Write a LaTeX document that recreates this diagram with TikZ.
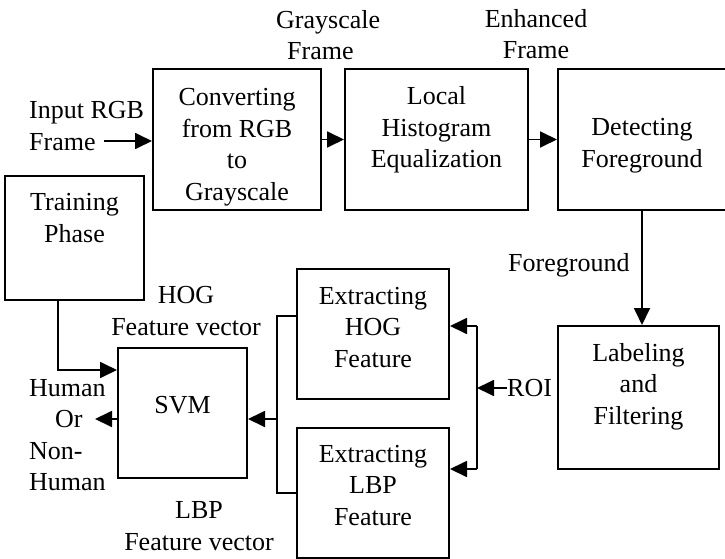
\documentclass[tikz,border=0pt]{standalone}
\usepackage{fontspec}
\setmainfont{Liberation Serif}
\usetikzlibrary{arrows.meta}
\tikzset{block/.style = {draw, line width=2pt, align=center, inner sep=0pt}}
\tikzset{lifted/.style = {text depth=#1}}
\tikzset{sunk/.style = {text height=#1}}
\tikzset{tag/.style = {align=center, inner sep=0pt}}
\tikzset{wire/.style = {line width=1.8pt}}
\tikzset{flow/.style = {wire, -{Triangle[length=17pt,width=16pt]}}}

\begin{document}
\begin{tikzpicture}[x=1pt, y=-1pt, font=\fontsize{26}{31.5}\selectfont]
	\useasboundingbox (0,0) rectangle (725,559);
	% top row
	\node[block, sunk=127pt, minimum width=168pt, minimum height=141pt] (conv) at (237,139.5) {Converting\\from RGB\\to\\Grayscale};
	\node[block, lifted=25pt, minimum width=183pt, minimum height=141pt] (hist) at (436.5,139.5) {Local\\Histogram\\Equalization};
	\node[block, sunk=61pt, minimum width=168pt, minimum height=141pt] (detect) at (642,139.5) {Detecting\\Foreground};
	\node[block, lifted=28pt, minimum width=161pt, minimum height=143pt] (label) at (638.5,397.5) {Labeling\\and\\Filtering};
	% classifier side
	\node[block, lifted=40pt, minimum width=139pt, minimum height=124pt] (train) at (74.5,238) {Training\\Phase};
	\node[block, lifted=16pt, minimum width=129pt, minimum height=130pt] (svm) at (182.5,413) {SVM};
	\node[block, lifted=14pt, minimum width=152pt, minimum height=130pt] (hog) at (373,334) {Extracting\\HOG\\Feature};
	\node[block, lifted=16pt, minimum width=152pt, minimum height=130pt] (lbp) at (373,493) {Extracting\\LBP\\Feature};

	\node[tag, anchor=west, align=left] (inp) at (29,126) {Input RGB\\Frame};
	\node[tag, anchor=west, align=left] (gray) at (276,35) {Grayscale\\\hspace*{11pt}Frame};
	\node[tag] (enh) at (536,34) {Enhanced\\Frame};
	\node[tag, anchor=west] (fg) at (508,265) {Foreground};
	\node[tag, anchor=west] (roi) at (507,388) {ROI};
	\node[tag] (hogvec) at (186,311) {HOG\\Feature vector};
	\node[tag] (lbpvec) at (199,526) {LBP\\Feature vector};
	\node[tag, anchor=west, align=left] (hum) at (29,435) {Human\\\hspace*{26pt}Or\\Non-\\Human};

	\coordinate (inpEnd) at (104,141);
	\coordinate (roiTop) at (477,326);
	\coordinate (roiBot) at (477,469);
	\coordinate (hogTap) at (277,316);
	\coordinate (lbpTap) at (277,493);
	\coordinate (join) at (277,419);
	\coordinate (outTip) at (95,419);
	\coordinate (trainFoot) at (58,300);
	\coordinate (trainBend) at (58,370);

	\draw[flow] (inpEnd) -- (inpEnd -| conv.west);
	\draw[flow] (conv) -- (hist);
	\draw[flow] (hist) -- (detect);
	\draw[flow] (detect.south) -- (detect.south |- label.north);
	\draw[wire] (roiTop) -- (roiBot);
	\draw[flow] (roiTop) -- (roiTop -| hog.east);
	\draw[flow] (roiBot) -- (roiBot -| lbp.east);
	\draw[flow] (roi.west) -- (roi.west -| roiTop);
	\draw[wire] (hogTap -| hog.west) -- (hogTap) -- (lbpTap) -- (lbpTap -| lbp.west);
	\draw[flow] (join) -- (join -| svm.east);
	\draw[flow] (outTip -| svm.west) -- (outTip);
	\draw[flow] (trainFoot) -- (trainBend) -- (trainBend -| svm.west);
\end{tikzpicture}
\end{document}
